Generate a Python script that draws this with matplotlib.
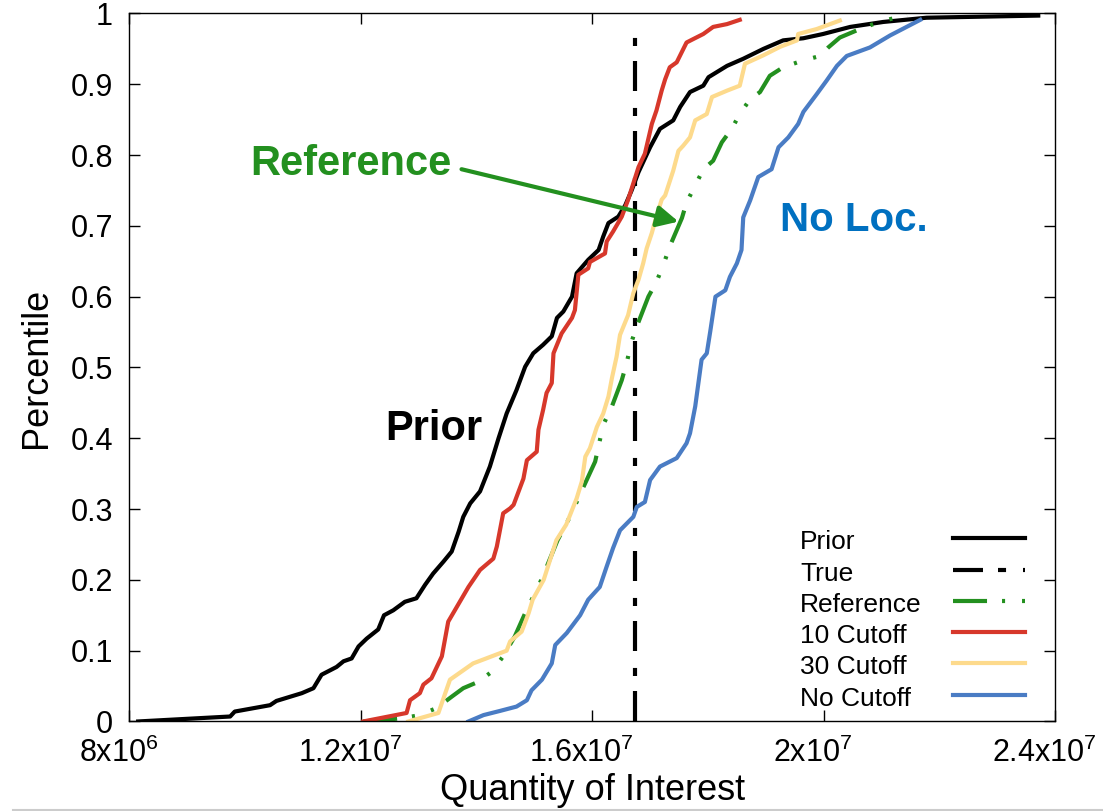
#!/usr/bin/env python3

import matplotlib
matplotlib.use("Agg")
import matplotlib.pyplot as plt
from matplotlib.lines import Line2D
from matplotlib.transforms import ScaledTranslation

# empirical CDFs, quantity in units of 1e6
prior_x = [8.15, 9.74, 9.82, 10.43, 10.54, 10.98, 11.18, 11.32, 11.58, 11.70, 11.84, 11.96,
           12.10, 12.30, 12.40, 12.56, 12.76, 12.96, 13.11, 13.25, 13.43, 13.57, 13.69, 13.77,
           13.89, 14.06, 14.23, 14.38, 14.52, 14.69, 14.84, 14.98, 15.15, 15.30, 15.39, 15.50,
           15.65, 15.73, 15.93, 16.11, 16.19, 16.28, 16.45, 16.57, 16.68, 16.80, 17.00, 17.17,
           17.40, 17.52, 17.69, 17.92, 18.01, 18.33, 18.61, 18.96, 19.30, 19.65, 19.99, 20.46,
           21.03, 21.78, 23.71]
prior_y = [0.0, 0.007, 0.014, 0.023, 0.029, 0.040, 0.047, 0.066, 0.077, 0.085, 0.089, 0.106,
           0.117, 0.130, 0.150, 0.157, 0.169, 0.174, 0.193, 0.209, 0.226, 0.240, 0.268, 0.289,
           0.308, 0.325, 0.360, 0.400, 0.435, 0.468, 0.501, 0.520, 0.532, 0.544, 0.570, 0.579,
           0.600, 0.633, 0.652, 0.666, 0.685, 0.704, 0.713, 0.729, 0.750, 0.776, 0.811, 0.837,
           0.849, 0.868, 0.889, 0.898, 0.910, 0.926, 0.936, 0.950, 0.962, 0.965, 0.971, 0.981,
           0.988, 0.994, 0.997]

true_x = 16.74
true_y = [0.0, 0.97]

ref_x = [12.04, 12.71, 13.02, 13.31, 13.57, 13.77, 14.03, 14.26, 14.46, 14.66, 14.84, 15.12,
         15.40, 15.62, 15.83, 16.05, 16.19, 16.34, 16.51, 16.60, 16.67, 16.77, 16.97, 17.11,
         17.23, 17.34, 17.55, 17.63, 17.78, 17.92, 18.09, 18.24, 18.41, 18.55, 18.73, 18.90,
         19.07, 19.30, 19.62, 19.94, 20.08, 20.28, 20.57, 20.86, 21.15, 21.44]
ref_y = [0.0, 0.0045, 0.009, 0.019, 0.035, 0.047, 0.056, 0.070, 0.092, 0.120, 0.153, 0.200,
         0.256, 0.290, 0.328, 0.367, 0.419, 0.445, 0.482, 0.508, 0.534, 0.558, 0.600, 0.621,
         0.645, 0.671, 0.711, 0.733, 0.757, 0.780, 0.792, 0.818, 0.837, 0.858, 0.879, 0.889,
         0.912, 0.924, 0.933, 0.940, 0.952, 0.966, 0.976, 0.985, 0.992, 0.998]

cut10_x = [12.04, 12.79, 12.85, 13.02, 13.08, 13.22, 13.40, 13.51, 13.71, 13.86, 14.06, 14.29,
           14.35, 14.46, 14.58, 14.64, 14.81, 14.87, 15.04, 15.07, 15.15, 15.21, 15.30, 15.33,
           15.47, 15.65, 15.70, 15.76, 15.93, 15.96, 16.22, 16.25, 16.36, 16.51, 16.62, 16.80,
           16.91, 17.03, 17.11, 17.20, 17.26, 17.34, 17.46, 17.63, 17.75, 17.92, 18.09, 18.33,
           18.55]
cut10_y = [0.0, 0.012, 0.030, 0.040, 0.052, 0.061, 0.092, 0.141, 0.169, 0.190, 0.214, 0.230,
           0.247, 0.294, 0.301, 0.306, 0.343, 0.369, 0.381, 0.412, 0.440, 0.464, 0.478, 0.520,
           0.548, 0.570, 0.581, 0.631, 0.640, 0.649, 0.661, 0.678, 0.692, 0.713, 0.737, 0.783,
           0.802, 0.844, 0.863, 0.891, 0.907, 0.924, 0.931, 0.959, 0.964, 0.971, 0.981, 0.985,
           0.991]

cut30_x = [12.82, 13.34, 13.54, 13.94, 14.52, 14.58, 14.78, 14.90, 14.97, 15.16, 15.38, 15.55,
           15.73, 15.82, 15.88, 15.96, 16.08, 16.19, 16.28, 16.34, 16.42, 16.48, 16.62, 16.71,
           16.80, 16.88, 16.94, 17.03, 17.09, 17.20, 17.26, 17.40, 17.49, 17.57, 17.69, 17.78,
           17.98, 18.07, 18.33, 18.55, 18.64, 18.96, 19.25, 19.54, 19.56, 19.88, 20.28]
cut30_y = [0.0, 0.012, 0.059, 0.082, 0.100, 0.113, 0.127, 0.153, 0.172, 0.200, 0.256, 0.278,
           0.315, 0.339, 0.374, 0.386, 0.416, 0.435, 0.459, 0.485, 0.515, 0.546, 0.574, 0.605,
           0.624, 0.647, 0.668, 0.690, 0.708, 0.737, 0.743, 0.778, 0.806, 0.813, 0.825, 0.849,
           0.858, 0.882, 0.891, 0.898, 0.929, 0.941, 0.953, 0.962, 0.971, 0.978, 0.990]

nocut_x = [13.86, 14.12, 14.41, 14.69, 14.87, 14.95, 15.13, 15.30, 15.36, 15.56, 15.79, 15.93,
           16.13, 16.25, 16.36, 16.48, 16.71, 16.77, 16.91, 17.00, 17.17, 17.46, 17.63, 17.69,
           17.78, 17.83, 17.89, 17.98, 18.04, 18.13, 18.30, 18.38, 18.50, 18.58, 18.61, 18.73,
           18.87, 19.10, 19.22, 19.39, 19.56, 19.65, 19.88, 20.05, 20.23, 20.40, 20.80, 21.15,
           21.67]
nocut_y = [0.0, 0.009, 0.015, 0.021, 0.030, 0.044, 0.059, 0.082, 0.108, 0.125, 0.150, 0.172,
           0.190, 0.219, 0.245, 0.270, 0.289, 0.303, 0.310, 0.341, 0.360, 0.372, 0.393, 0.407,
           0.445, 0.475, 0.511, 0.520, 0.551, 0.600, 0.609, 0.628, 0.647, 0.666, 0.712, 0.736,
           0.769, 0.780, 0.811, 0.825, 0.844, 0.861, 0.886, 0.905, 0.926, 0.940, 0.952, 0.969,
           0.991]

x_ticks = [8, 12, 16, 20, 24]
x_tick_labels = ["8x10$^{6}$", "1.2x10$^{7}$", "1.6x10$^{7}$", "2x10$^{7}$", "2.4x10$^{7}$"]
y_ticks = [0, 0.1, 0.2, 0.3, 0.4, 0.5, 0.6, 0.7, 0.8, 0.9, 1]
y_tick_labels = ["0", "0.1", "0.2", "0.3", "0.4", "0.5", "0.6", "0.7", "0.8", "0.9", "1"]

BLACK = "#000000"
GREEN = "#23901f"
RED = "#d7382b"
YELLOW = "#fdda8c"
BLUE = "#4a7cc4"
LABEL_BLUE = "#0070c0"

LW = 3.0
STYLES = {
    "Prior": dict(color=BLACK, lw=LW),
    "True": dict(color=BLACK, lw=LW, linestyle=(0, (21.6, 10.8, 5.8, 12.2)),
                 dash_capstyle="butt"),
    "Reference": dict(color=GREEN, lw=LW, linestyle=(0, (24.5, 10.8, 2.2, 12.2, 2.2, 10.8)),
                      dash_capstyle="butt"),
    "10 Cutoff": dict(color=RED, lw=LW),
    "30 Cutoff": dict(color=YELLOW, lw=LW),
    "No Cutoff": dict(color=BLUE, lw=LW),
}


def scaled(xs):
    return [v * 1e6 for v in xs]


def main():
    plt.rcParams["font.family"] = ["Liberation Sans", "DejaVu Sans"]
    plt.rcParams["mathtext.default"] = "regular"
    plt.rcParams["lines.scale_dashes"] = False

    fig = plt.figure(figsize=(11.03, 8.11), dpi=100)
    ax = fig.add_axes([0.1174, 0.1104, 0.8391, 0.8730])

    ax.plot(scaled(prior_x), prior_y, **STYLES["Prior"])
    ax.plot(scaled([true_x, true_x]), true_y, **STYLES["True"])
    ax.plot(scaled(ref_x), ref_y, **STYLES["Reference"])
    ax.plot(scaled(cut10_x), cut10_y, **STYLES["10 Cutoff"])
    ax.plot(scaled(cut30_x), cut30_y, **STYLES["30 Cutoff"])
    ax.plot(scaled(nocut_x), nocut_y, **STYLES["No Cutoff"])

    ax.set_xlim(8e6, 2.4e7)
    ax.set_ylim(0, 1)
    ax.set_xticks(scaled(x_ticks))
    ax.set_xticklabels(x_tick_labels)
    ax.set_yticks(y_ticks)
    ax.set_yticklabels(y_tick_labels)
    ax.tick_params(direction="in", length=8, width=1, top=True, right=True, labelsize=22)
    ax.tick_params(axis="x", pad=11.5)
    ax.tick_params(axis="y", pad=12)
    # gnuplot-style centring: the exponent hangs off the right of the label
    shift = ScaledTranslation(-0.11, 0, fig.dpi_scale_trans)
    for lab in ax.get_xticklabels():
        lab.set_transform(lab.get_transform() + shift)
    for s in ax.spines.values():
        s.set_linewidth(1.0)

    ax.set_xlabel("Quantity of Interest", fontsize=26, labelpad=3)
    ax.set_ylabel("Percentile", fontsize=26, labelpad=12)

    # curve labels
    ax.text(10.08e6, 0.772, "Reference", color=GREEN, fontsize=30, fontweight="bold")
    ax.text(19.25e6, 0.693, "No Loc.", color=LABEL_BLUE, fontsize=29, fontweight="bold")
    ax.text(12.42e6, 0.397, "Prior", color=BLACK, fontsize=30, fontweight="bold")
    ax.annotate("", xy=(17.49e6, 0.706), xytext=(13.74e6, 0.780),
                arrowprops=dict(arrowstyle="-|>", color=GREEN, lw=3, mutation_scale=32,
                                shrinkA=0, shrinkB=0))

    # key: left-justified labels with the line samples to their right
    rows_y = [0.2592, 0.2140, 0.1702, 0.1264, 0.0826, 0.0374]
    for name, y in zip(STYLES, rows_y):
        ax.text(0.7245, y - 0.015, name, transform=ax.transAxes, fontsize=19,
                ha="left", va="baseline")
        ax.add_line(Line2D([0.8898, 0.9676], [y, y], transform=ax.transAxes, **STYLES[name]))

    fig.add_artist(Line2D([0.012, 1.0], [0.0015, 0.0015], color="#cccccc", lw=1.5))

    fig.savefig("out.png", dpi=100)


if __name__ == "__main__":
    main()
